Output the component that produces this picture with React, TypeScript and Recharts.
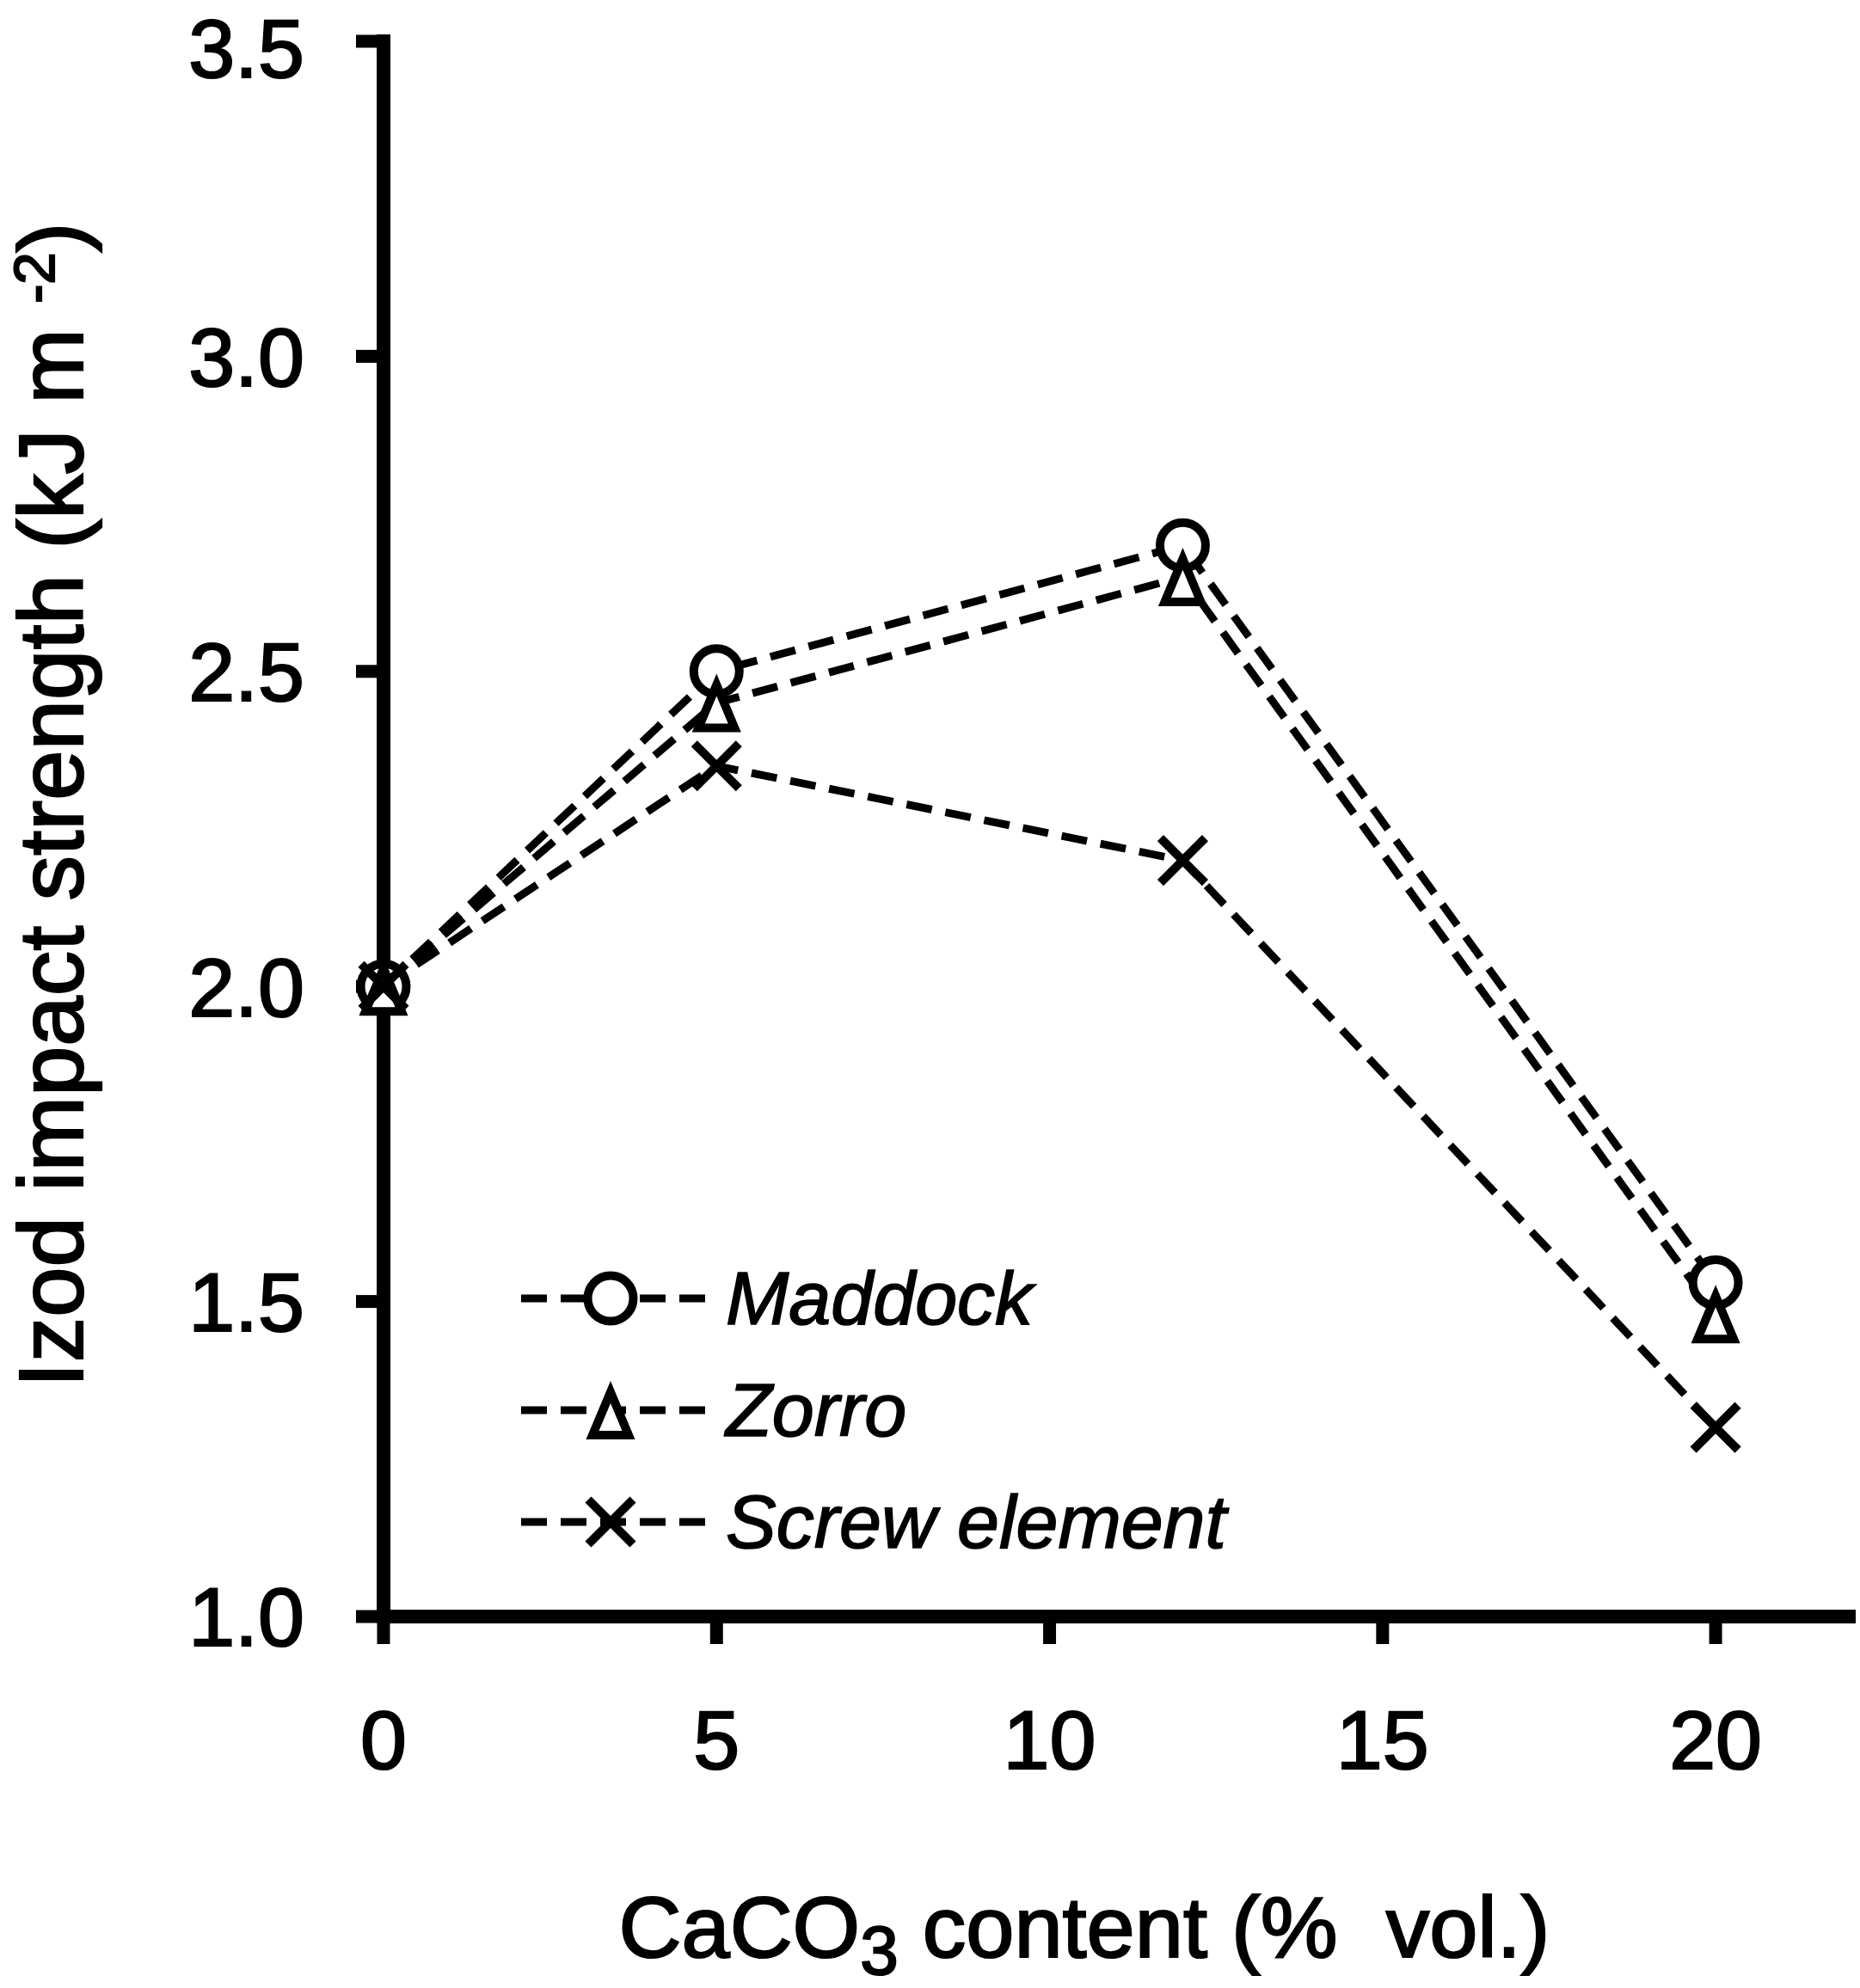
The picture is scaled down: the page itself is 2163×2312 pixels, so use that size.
import React from 'react';
import { LineChart, Line, XAxis, YAxis, Legend } from 'recharts';

const FONT = '"Liberation Sans", Arial, sans-serif';

// CaCO3 content (% vol.)
const contents = [0, 5, 12, 20];
// Izod impact strength (kJ m-2)
const maddock = [2.0, 2.5, 2.7, 1.53];
const zorro = [2.0, 2.45, 2.65, 1.48];
const screwElement = [2.0, 2.35, 2.2, 1.3];

const xTicks = [0, 5, 10, 15, 20];
const yTicks = [1.0, 1.5, 2.0, 2.5, 3.0, 3.5];

type Shape = 'circle' | 'triangle' | 'cross';

const SERIES: { key: string; name: string; shape: Shape; values: number[] }[] = [
  { key: 'maddock', name: 'Maddock', shape: 'circle', values: maddock },
  { key: 'zorro', name: 'Zorro', shape: 'triangle', values: zorro },
  { key: 'screw', name: 'Screw element', shape: 'cross', values: screwElement },
];

const data = contents.map((x, i) => {
  const row: Record<string, number> = { x };
  SERIES.forEach((s) => {
    row[s.key] = s.values[i];
  });
  return row;
});

const STROKE = 9;
const MARK_STROKE = 10;
const DASH = '30 16';
// slight outline so the glyphs come out as heavy as the original export
const TEXT_WEIGHT = 2.2;

const Marker = ({ shape, cx, cy }: { shape: Shape; cx: number; cy: number }) => {
  if (shape === 'circle') {
    return <circle cx={cx} cy={cy} r={26.5} fill="#fff" stroke="#000" strokeWidth={MARK_STROKE} />;
  }
  if (shape === 'triangle') {
    const pts = `${cx},${cy - 21} ${cx - 21},${cy + 29} ${cx + 21},${cy + 29}`;
    return <polygon points={pts} fill="#fff" stroke="#000" strokeWidth={MARK_STROKE} strokeLinejoin="miter" />;
  }
  return (
    <g stroke="#000" strokeWidth={MARK_STROKE}>
      <line x1={cx - 26} y1={cy - 26} x2={cx + 26} y2={cy + 26} />
      <line x1={cx - 26} y1={cy + 26} x2={cx + 26} y2={cy - 26} />
    </g>
  );
};

const LegendContent = () => (
  <div style={{ fontFamily: FONT, color: '#000' }}>
    {SERIES.map((s) => (
      <div key={s.key} style={{ display: 'flex', alignItems: 'center', height: 130 }}>
        <svg width={216} height={130} style={{ display: 'block' }}>
          <line x1={0} y1={65} x2={216} y2={65} stroke="#000" strokeWidth={STROKE} strokeDasharray={DASH} />
          <Marker shape={s.shape} cx={104} cy={65} />
        </svg>
        <span
          style={{
            fontSize: 88,
            fontStyle: 'italic',
            marginLeft: 22,
            lineHeight: 1,
            whiteSpace: 'nowrap',
            WebkitTextStroke: '1.6px #000',
          }}
        >
          {s.name}
        </span>
      </div>
    ))}
  </div>
);

const XTitle = (props: any) => {
  const { viewBox } = props;
  const cx = viewBox.x + viewBox.width / 2 - 37;
  const baseline = viewBox.y + 396;
  return (
    <text
      x={cx}
      y={baseline}
      textAnchor="middle"
      fontFamily={FONT}
      fontSize={101}
      fill="#000"
      stroke="#000"
      strokeWidth={TEXT_WEIGHT}
    >
      CaCO
      <tspan fontSize={80} dy={20}>3</tspan>
      <tspan dy={-20}>{'\u00a0content (%\u00a0 vol.)'}</tspan>
    </text>
  );
};

const YTitle = (props: any) => {
  const { viewBox } = props;
  const cy = viewBox.y + viewBox.height / 2 - 28;
  return (
    <text
      transform={`translate(96, ${cy}) rotate(-90)`}
      textAnchor="middle"
      fontFamily={FONT}
      fontSize={105}
      fill="#000"
      stroke="#000"
      strokeWidth={TEXT_WEIGHT}
    >
      {'Izod impact strength (kJ m\u00a0'}
      <tspan fontSize={67} dy={-33}>-2</tspan>
      <tspan dy={33}>)</tspan>
    </text>
  );
};

const axisLine = { stroke: '#000', strokeWidth: 16, strokeLinecap: 'square' as const };
const tickLine = { stroke: '#000', strokeWidth: 15 };
const tickStyle = { fontSize: 97, fill: '#000', fontFamily: FONT, stroke: '#000', strokeWidth: TEXT_WEIGHT };

export default function App() {
  return (
    <div style={{ position: 'absolute', left: 0, top: 0, background: '#fff' }}>
      <LineChart width={2163} height={2312} data={data} margin={{ top: 48, right: 13, bottom: 0, left: 0 }}>
        <XAxis
          dataKey="x"
          type="number"
          domain={[0, 22]}
          ticks={xTicks}
          height={432}
          axisLine={axisLine}
          tickLine={tickLine}
          tickSize={32}
          tickMargin={76}
          tick={tickStyle}
          label={<XTitle />}
        />
        <XAxis
          xAxisId="top"
          orientation="top"
          type="number"
          domain={[0, 22]}
          height={0}
          tick={false}
          tickLine={false}
          axisLine={axisLine}
        />
        <YAxis
          type="number"
          domain={[1, 3.5]}
          ticks={yTicks}
          width={446}
          axisLine={axisLine}
          tickLine={tickLine}
          tickSize={32}
          tickMargin={60}
          tick={tickStyle}
          tickFormatter={(v: number) => v.toFixed(1)}
          label={<YTitle />}
        />
        <YAxis
          yAxisId="right"
          orientation="right"
          type="number"
          domain={[1, 3.5]}
          width={0}
          tick={false}
          tickLine={false}
          axisLine={axisLine}
        />
        <Legend
          layout="vertical"
          align="center"
          verticalAlign="middle"
          content={<LegendContent />}
          wrapperStyle={{ left: 606, top: 1445, width: 'auto', height: 'auto' }}
        />
        {SERIES.map((s) => (
          <Line
            key={s.key}
            dataKey={s.key}
            name={s.name}
            type="linear"
            stroke="#000"
            strokeWidth={STROKE}
            strokeDasharray={DASH}
            isAnimationActive={false}
            activeDot={false}
            dot={(p: any) => <Marker key={`${s.key}-${p.index}`} shape={s.shape} cx={p.cx} cy={p.cy} />}
          />
        ))}
      </LineChart>
    </div>
  );
}
